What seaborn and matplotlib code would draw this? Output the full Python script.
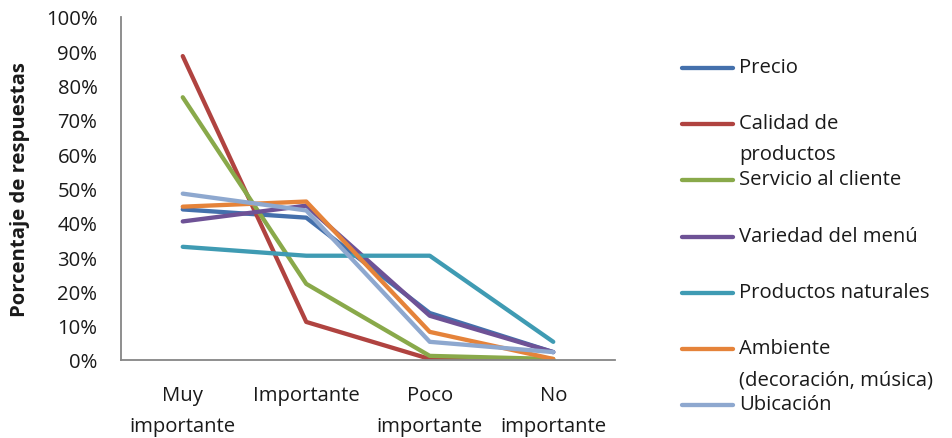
import matplotlib
matplotlib.use("Agg")
import matplotlib.pyplot as plt
from matplotlib.lines import Line2D
from matplotlib.ticker import PercentFormatter
import seaborn as sns
import pandas as pd

# Response categories (x axis)
categorias = ["Muy\nimportante", "Importante", "Poco\nimportante", "No\nimportante"]

# Share of responses per attribute (%)
precio = [43.9, 41.5, 13.7, 2.3]
calidad = [88.6, 11.1, 0.3, 0.0]
servicio = [76.6, 22.2, 1.2, 0.3]
variedad = [40.4, 45.0, 12.9, 2.3]
naturales = [33.0, 30.4, 30.4, 5.3]
ambiente = [44.7, 46.2, 8.2, 0.3]
ubicacion = [48.5, 43.6, 5.3, 2.3]

series = ["Precio", "Calidad de\nproductos", "Servicio al cliente",
          "Variedad del menú", "Productos naturales",
          "Ambiente\n(decoración, música)", "Ubicación"]
valores = [precio, calidad, servicio, variedad, naturales, ambiente, ubicacion]
colores = ["#4470AC", "#B04340", "#89A94A", "#6E5296", "#3F9BB3", "#E5833A", "#8EA8CF"]

rows = []
for nombre, vals in zip(series, valores):
    for i, v in enumerate(vals):
        rows.append({"serie": nombre, "pos": i, "valor": v})
df = pd.DataFrame(rows)

sns.set_style("white")
plt.rcParams["font.family"] = ["Open Sans", "DejaVu Sans"]

FS = 14.6
TXT = "#1a1a1a"

fig = plt.figure(figsize=(9.52, 4.39), dpi=100)
ax = fig.add_axes([121 / 952, 1 - 361 / 439, 494 / 952, 343 / 439])

sns.lineplot(data=df, x="pos", y="valor", hue="serie", hue_order=series,
             palette=colores, linewidth=3.1, sort=False, legend=False, ax=ax,
             solid_capstyle="round", solid_joinstyle="round")

ax.set_xlim(-0.5, 3.5)
ax.set_ylim(0, 100)
ax.set_yticks(range(0, 101, 10))
ax.yaxis.set_major_formatter(PercentFormatter(decimals=0))
ax.set_xticks(range(4))
ax.set_xticklabels(categorias, linespacing=1.75)
ax.tick_params(axis="both", length=0, labelsize=FS, colors=TXT)
ax.tick_params(axis="x", pad=18)
ax.tick_params(axis="y", pad=17)
ax.set_xlabel("")
ax.set_ylabel("Porcentaje de respuestas", fontsize=FS, fontweight="bold",
              color=TXT)
ax.yaxis.set_label_coords(-0.185, 0.5)

for side in ("top", "right"):
    ax.spines[side].set_visible(False)
for side in ("left", "bottom"):
    ax.spines[side].set_color("#868686")
    ax.spines[side].set_linewidth(1.3)

# Legend on the right: handle aligned with the first text line
y0 = 69
paso = 56.2
for k, (nombre, c) in enumerate(zip(series, colores)):
    yp = 1 - (y0 + k * paso) / 439
    fig.add_artist(Line2D([682 / 952, 733 / 952], [yp, yp], color=c,
                          linewidth=3.1, solid_capstyle="round",
                          transform=fig.transFigure))
    fig.text(739 / 952, yp + 11 / 439, nombre, fontsize=FS, va="top",
             ha="left", color=TXT, linespacing=1.75)

fig.savefig("out.png", dpi=100, facecolor="white")
